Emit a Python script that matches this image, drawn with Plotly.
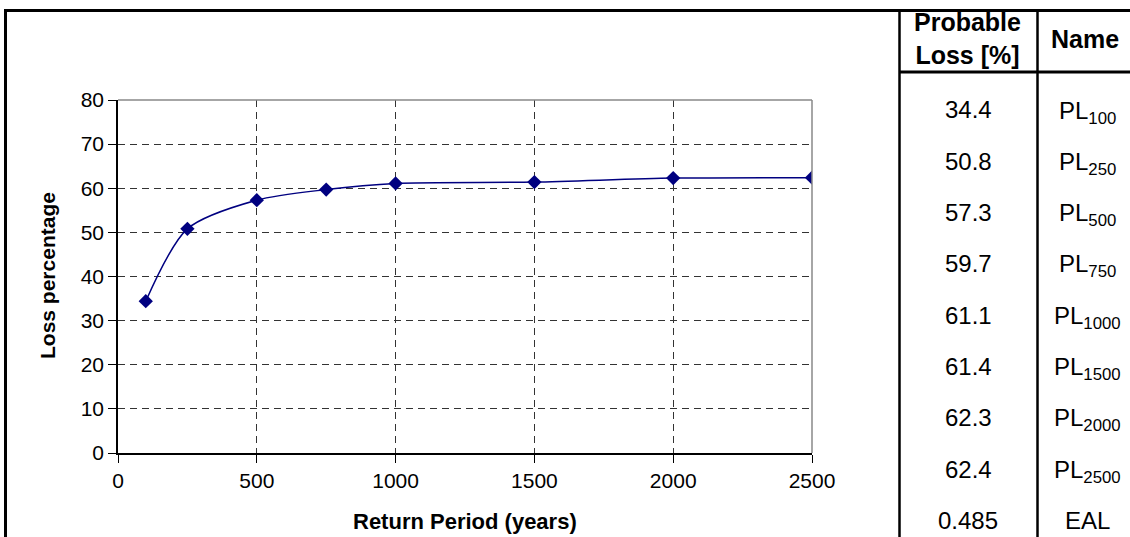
import plotly.graph_objects as go

# ---- data ----
return_periods = [100, 250, 500, 750, 1000, 1500, 2000, 2500]
loss_pct = [34.4, 50.8, 57.3, 59.7, 61.1, 61.4, 62.3, 62.4]

table_values = ["34.4", "50.8", "57.3", "59.7", "61.1", "61.4", "62.3", "62.4", "0.485"]
table_names = ["PL<sub>100</sub>", "PL<sub>250</sub>", "PL<sub>500</sub>", "PL<sub>750</sub>",
               "PL<sub>1000</sub>", "PL<sub>1500</sub>", "PL<sub>2000</sub>", "PL<sub>2500</sub>", "EAL"]
header_loss = "Probable<br>Loss [%]"
header_name = "Name"

x_ticks = [0, 500, 1000, 1500, 2000, 2500]
y_ticks = [0, 10, 20, 30, 40, 50, 60, 70, 80]

FONT = "Liberation Sans, Arial, sans-serif"
W, H = 1130, 537
L, R, T, B = 118, 812, 100, 453  # plot area in pixels


def px(x):
    return (x - L) / (R - L)


def py(y):
    return (B - y) / (B - T)


fig = go.Figure()
fig.add_trace(go.Scatter(
    x=return_periods, y=loss_pct, mode="lines+markers",
    line=dict(color="#000080", width=1.5, shape="spline", smoothing=0.8),
    marker=dict(symbol="diamond", size=11, color="#000080"),
    showlegend=False, hoverinfo="x+y",
))

fig.update_layout(
    width=W, height=H,
    margin=dict(l=L, r=W - R, t=T, b=H - B, pad=0),
    paper_bgcolor="white", plot_bgcolor="white",
    font=dict(family=FONT, size=21, color="black"),
    xaxis=dict(range=[0, 2500], tickvals=x_ticks, ticks="outside", ticklen=8,
               tickcolor="black", tickwidth=1, showline=True, linecolor="black", linewidth=1.5,
               showgrid=True, gridcolor="#333333", gridwidth=1, griddash="7px,5px",
               zeroline=False, tickfont=dict(size=21, family=FONT)),
    yaxis=dict(range=[0, 80], tickvals=y_ticks, ticks="outside", ticklen=8,
               tickcolor="black", tickwidth=1, showline=True, linecolor="black", linewidth=1.5,
               showgrid=True, gridcolor="#333333", gridwidth=1, griddash="7px,5px",
               zeroline=False, tickfont=dict(size=21, family=FONT)),
)

shapes = []
# plot-area top and right border (gray)
shapes.append(dict(type="line", xref="paper", yref="paper", x0=0, x1=1, y0=1, y1=1,
                   line=dict(color="#888888", width=1.5), layer="above"))
shapes.append(dict(type="line", xref="paper", yref="paper", x0=1, x1=1, y0=0, y1=1,
                   line=dict(color="#888888", width=1.5), layer="above"))
# outer frame
shapes.append(dict(type="line", xref="paper", yref="paper", x0=px(4), x1=px(1132), y0=py(10.5), y1=py(10.5),
                   line=dict(color="black", width=3)))
shapes.append(dict(type="line", xref="paper", yref="paper", x0=px(5.5), x1=px(5.5), y0=py(9), y1=py(540),
                   line=dict(color="black", width=3)))
# table lines
shapes.append(dict(type="line", xref="paper", yref="paper", x0=px(899.5), x1=px(899.5), y0=py(9), y1=py(540),
                   line=dict(color="black", width=2.5)))
shapes.append(dict(type="line", xref="paper", yref="paper", x0=px(1037.5), x1=px(1037.5), y0=py(9), y1=py(540),
                   line=dict(color="black", width=2.5)))
shapes.append(dict(type="line", xref="paper", yref="paper", x0=px(899), x1=px(1132), y0=py(72), y1=py(72),
                   line=dict(color="black", width=3)))

annotations = []
# axis titles
annotations.append(dict(text="<b>Return Period (years)</b>", xref="paper", yref="paper",
                        x=px(465), y=py(521), showarrow=False, xanchor="center", yanchor="middle",
                        font=dict(size=22, family=FONT)))
annotations.append(dict(text="<b>Loss percentage</b>", xref="paper", yref="paper",
                        x=px(47), y=py(276), showarrow=False, xanchor="center", yanchor="middle",
                        textangle=-90, font=dict(size=21, family=FONT)))
# table header
annotations.append(dict(text="<b>" + header_loss + "</b>", xref="paper", yref="paper",
                        x=px(967), y=py(39), showarrow=False, xanchor="center", yanchor="middle",
                        font=dict(size=25, family=FONT)))
annotations.append(dict(text="<b>" + header_name + "</b>", xref="paper", yref="paper",
                        x=px(1085), y=py(39), showarrow=False, xanchor="center", yanchor="middle",
                        font=dict(size=25, family=FONT)))
# table rows
row0, step = 110, 51.3
for i, (v, n) in enumerate(zip(table_values, table_names)):
    yy = row0 + i * step
    annotations.append(dict(text=v, xref="paper", yref="paper", x=px(968), y=py(yy),
                            showarrow=False, xanchor="center", yanchor="middle",
                            font=dict(size=24, family=FONT)))
    off = 2 if "<sub>" in n else 0
    annotations.append(dict(text=n, xref="paper", yref="paper", x=px(1087), y=py(yy + off),
                            showarrow=False, xanchor="center", yanchor="middle",
                            font=dict(size=24, family=FONT)))

fig.update_layout(shapes=shapes, annotations=annotations)
fig.write_html("out.html", config={"displayModeBar": False},
               post_script="document.body.style.margin='0';document.body.style.overflow='hidden';")
